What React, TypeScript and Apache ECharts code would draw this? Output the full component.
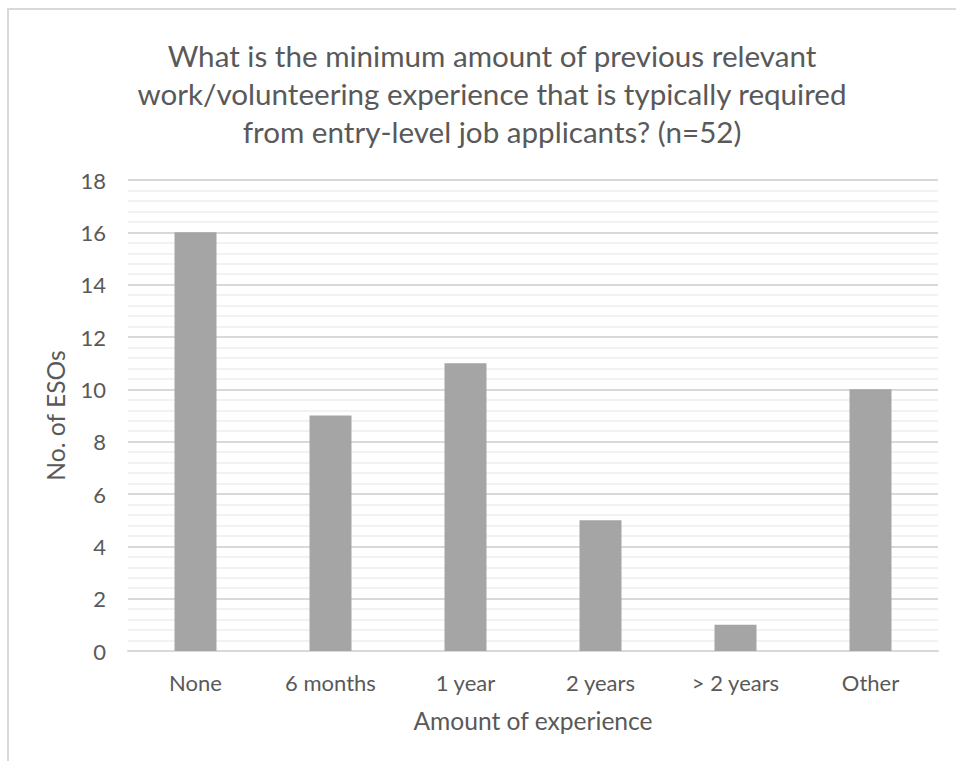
import React, { useEffect, useRef } from "react";
import * as echarts from "echarts";

const categories = ["None", "6 months", "1 year", "2 years", "> 2 years", "Other"];
const counts = [16, 9, 11, 5, 1, 10];
const titleLines = [
  "What is the minimum amount of previous relevant",
  "work/volunteering experience that is typically required",
  "from entry-level job applicants? (n=52)",
];
const xAxisTitle = "Amount of experience";
const yAxisTitle = "No. of ESOs";

const FONT = "Lato, 'Open Sans', sans-serif";
const TEXT = "#595959";

export default function App() {
  const ref = useRef<HTMLDivElement>(null);

  useEffect(() => {
    if (!ref.current) return;
    const chart = echarts.init(ref.current, null, { renderer: "svg" });
    chart.setOption({
      animation: false,
      backgroundColor: "#ffffff",
      title: {
        text: titleLines.join("\n"),
        left: 487,
        top: 31,
        textAlign: "center",
        textStyle: {
          fontFamily: FONT,
          fontSize: 29.6,
          fontWeight: "normal",
          color: TEXT,
          lineHeight: 38,
        },
      },
      graphic: [
        {
          type: "rect",
          shape: { x: 8, y: 9, width: 980, height: 800 },
          style: { fill: "none", stroke: "#d9d9d9", lineWidth: 2 },
          silent: true,
          z: -1,
        },
      ],
      grid: { left: 128, right: 18, top: 180, bottom: 110, containLabel: false },
      xAxis: {
        type: "category",
        data: categories,
        axisLine: { show: true, lineStyle: { color: "#d9d9d9", width: 2 } },
        axisTick: { show: false },
        axisLabel: {
          color: TEXT,
          fontFamily: FONT,
          fontSize: 22,
          margin: 20,
          interval: 0,
        },
        name: xAxisTitle,
        nameLocation: "middle",
        nameGap: 57,
        nameTextStyle: { color: TEXT, fontFamily: FONT, fontSize: 24.6 },
      },
      yAxis: {
        type: "value",
        min: 0,
        max: 18,
        interval: 2,
        axisLine: { show: false },
        axisTick: { show: false },
        axisLabel: {
          color: TEXT,
          fontFamily: FONT,
          fontSize: 22,
          margin: 22,
        },
        splitLine: { show: true, lineStyle: { color: "#d9d9d9", width: 2 } },
        minorTick: { show: false, splitNumber: 5 },
        minorSplitLine: { show: true, lineStyle: { color: "#f2f2f2", width: 2 } },
        name: yAxisTitle,
        nameLocation: "middle",
        nameGap: 60,
        nameTextStyle: { color: TEXT, fontFamily: FONT, fontSize: 24.6 },
      },
      series: [
        {
          type: "bar",
          data: counts,
          barWidth: 42,
          itemStyle: { color: "#a5a5a5" },
        },
      ],
    });
    return () => chart.dispose();
  }, []);

  return (
    <div
      ref={ref}
      style={{ position: "fixed", left: 0, top: 0, width: 956, height: 761 }}
    />
  );
}
